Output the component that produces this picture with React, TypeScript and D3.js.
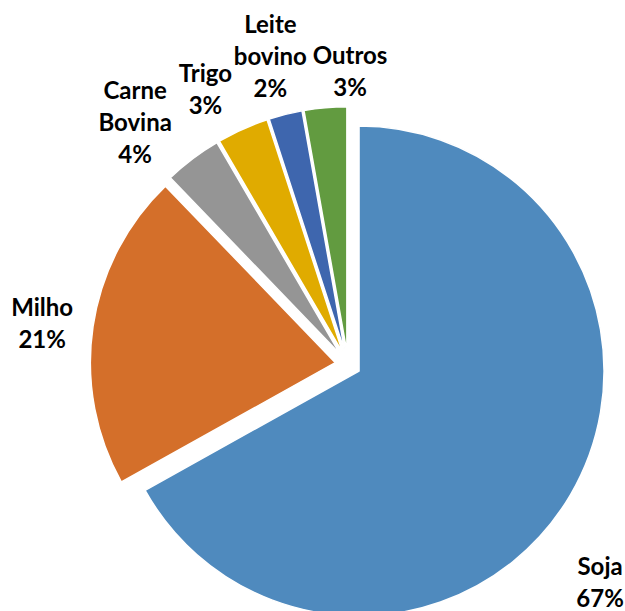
import React from "react";
import * as d3 from "d3";

const categories = ["Soja", "Milho", "Carne Bovina", "Trigo", "Leite bovino", "Outros"];
const values = [66.9, 20.9, 3.8, 3.4, 2.2, 2.8];
const labelLines = [["Soja"], ["Milho"], ["Carne", "Bovina"], ["Trigo"], ["Leite", "bovino"], ["Outros"]];
const colors = ["#4F8ABE", "#D46F2A", "#959595", "#E0AB00", "#3E66AE", "#629B40"];

// label layout: polar placement (degrees clockwise from top, distance from pie centre)
const labelAngle = [130.6, 277.9, 318.9, 332.7, 345.9, 0.4];
const labelRadius = [332.0, 308.8, 323.8, 310.8, 318.8, 294.4];

const W = 625;
const H = 611;
const CX = 348;
const CY = 364.5;
const R = 245;
const EXPLODE = 12.8;
const FONT = 24;
const LINE_H = 32;

export default function App() {
  const total = d3.sum(values);
  const pie = d3
    .pie<number>()
    .sort(null)
    .value((d) => d)
    .startAngle(0)
    .endAngle(2 * Math.PI);
  const arcs = pie(values);
  const arcGen = d3.arc<d3.PieArcDatum<number>>().innerRadius(0).outerRadius(R);

  return (
    <svg
      width={W}
      height={H}
      style={{ position: "absolute", left: 0, top: 0, display: "block", background: "#fff" }}
    >
      <g transform={`translate(${CX},${CY})`}>
        {arcs.map((a, i) => {
          const mid = (a.startAngle + a.endAngle) / 2;
          const dx = Math.sin(mid) * EXPLODE;
          const dy = -Math.cos(mid) * EXPLODE;
          return (
            <path
              key={categories[i]}
              d={arcGen(a) || ""}
              transform={`translate(${dx},${dy})`}
              fill={colors[i]}
              stroke="#fff"
              strokeWidth={1.5}
              strokeLinejoin="round"
            />
          );
        })}
        {arcs.map((a, i) => {
          const ang = (labelAngle[i] * Math.PI) / 180;
          const lx = Math.sin(ang) * labelRadius[i];
          const ly = -Math.cos(ang) * labelRadius[i];
          const lines = [...labelLines[i], `${Math.round((values[i] / total) * 100)}%`];
          const y0 = ly - ((lines.length - 1) * LINE_H) / 2;
          return (
            <text
              key={"l" + i}
              x={lx}
              y={y0}
              textAnchor="middle"
              dominantBaseline="central"
              fontFamily="Lato, 'Open Sans', sans-serif"
              fontWeight="bold"
              fontSize={FONT}
              fill="#000"
            >
              {lines.map((t, j) => (
                <tspan key={j} x={lx} y={y0 + j * LINE_H}>
                  {t}
                </tspan>
              ))}
            </text>
          );
        })}
      </g>
    </svg>
  );
}
